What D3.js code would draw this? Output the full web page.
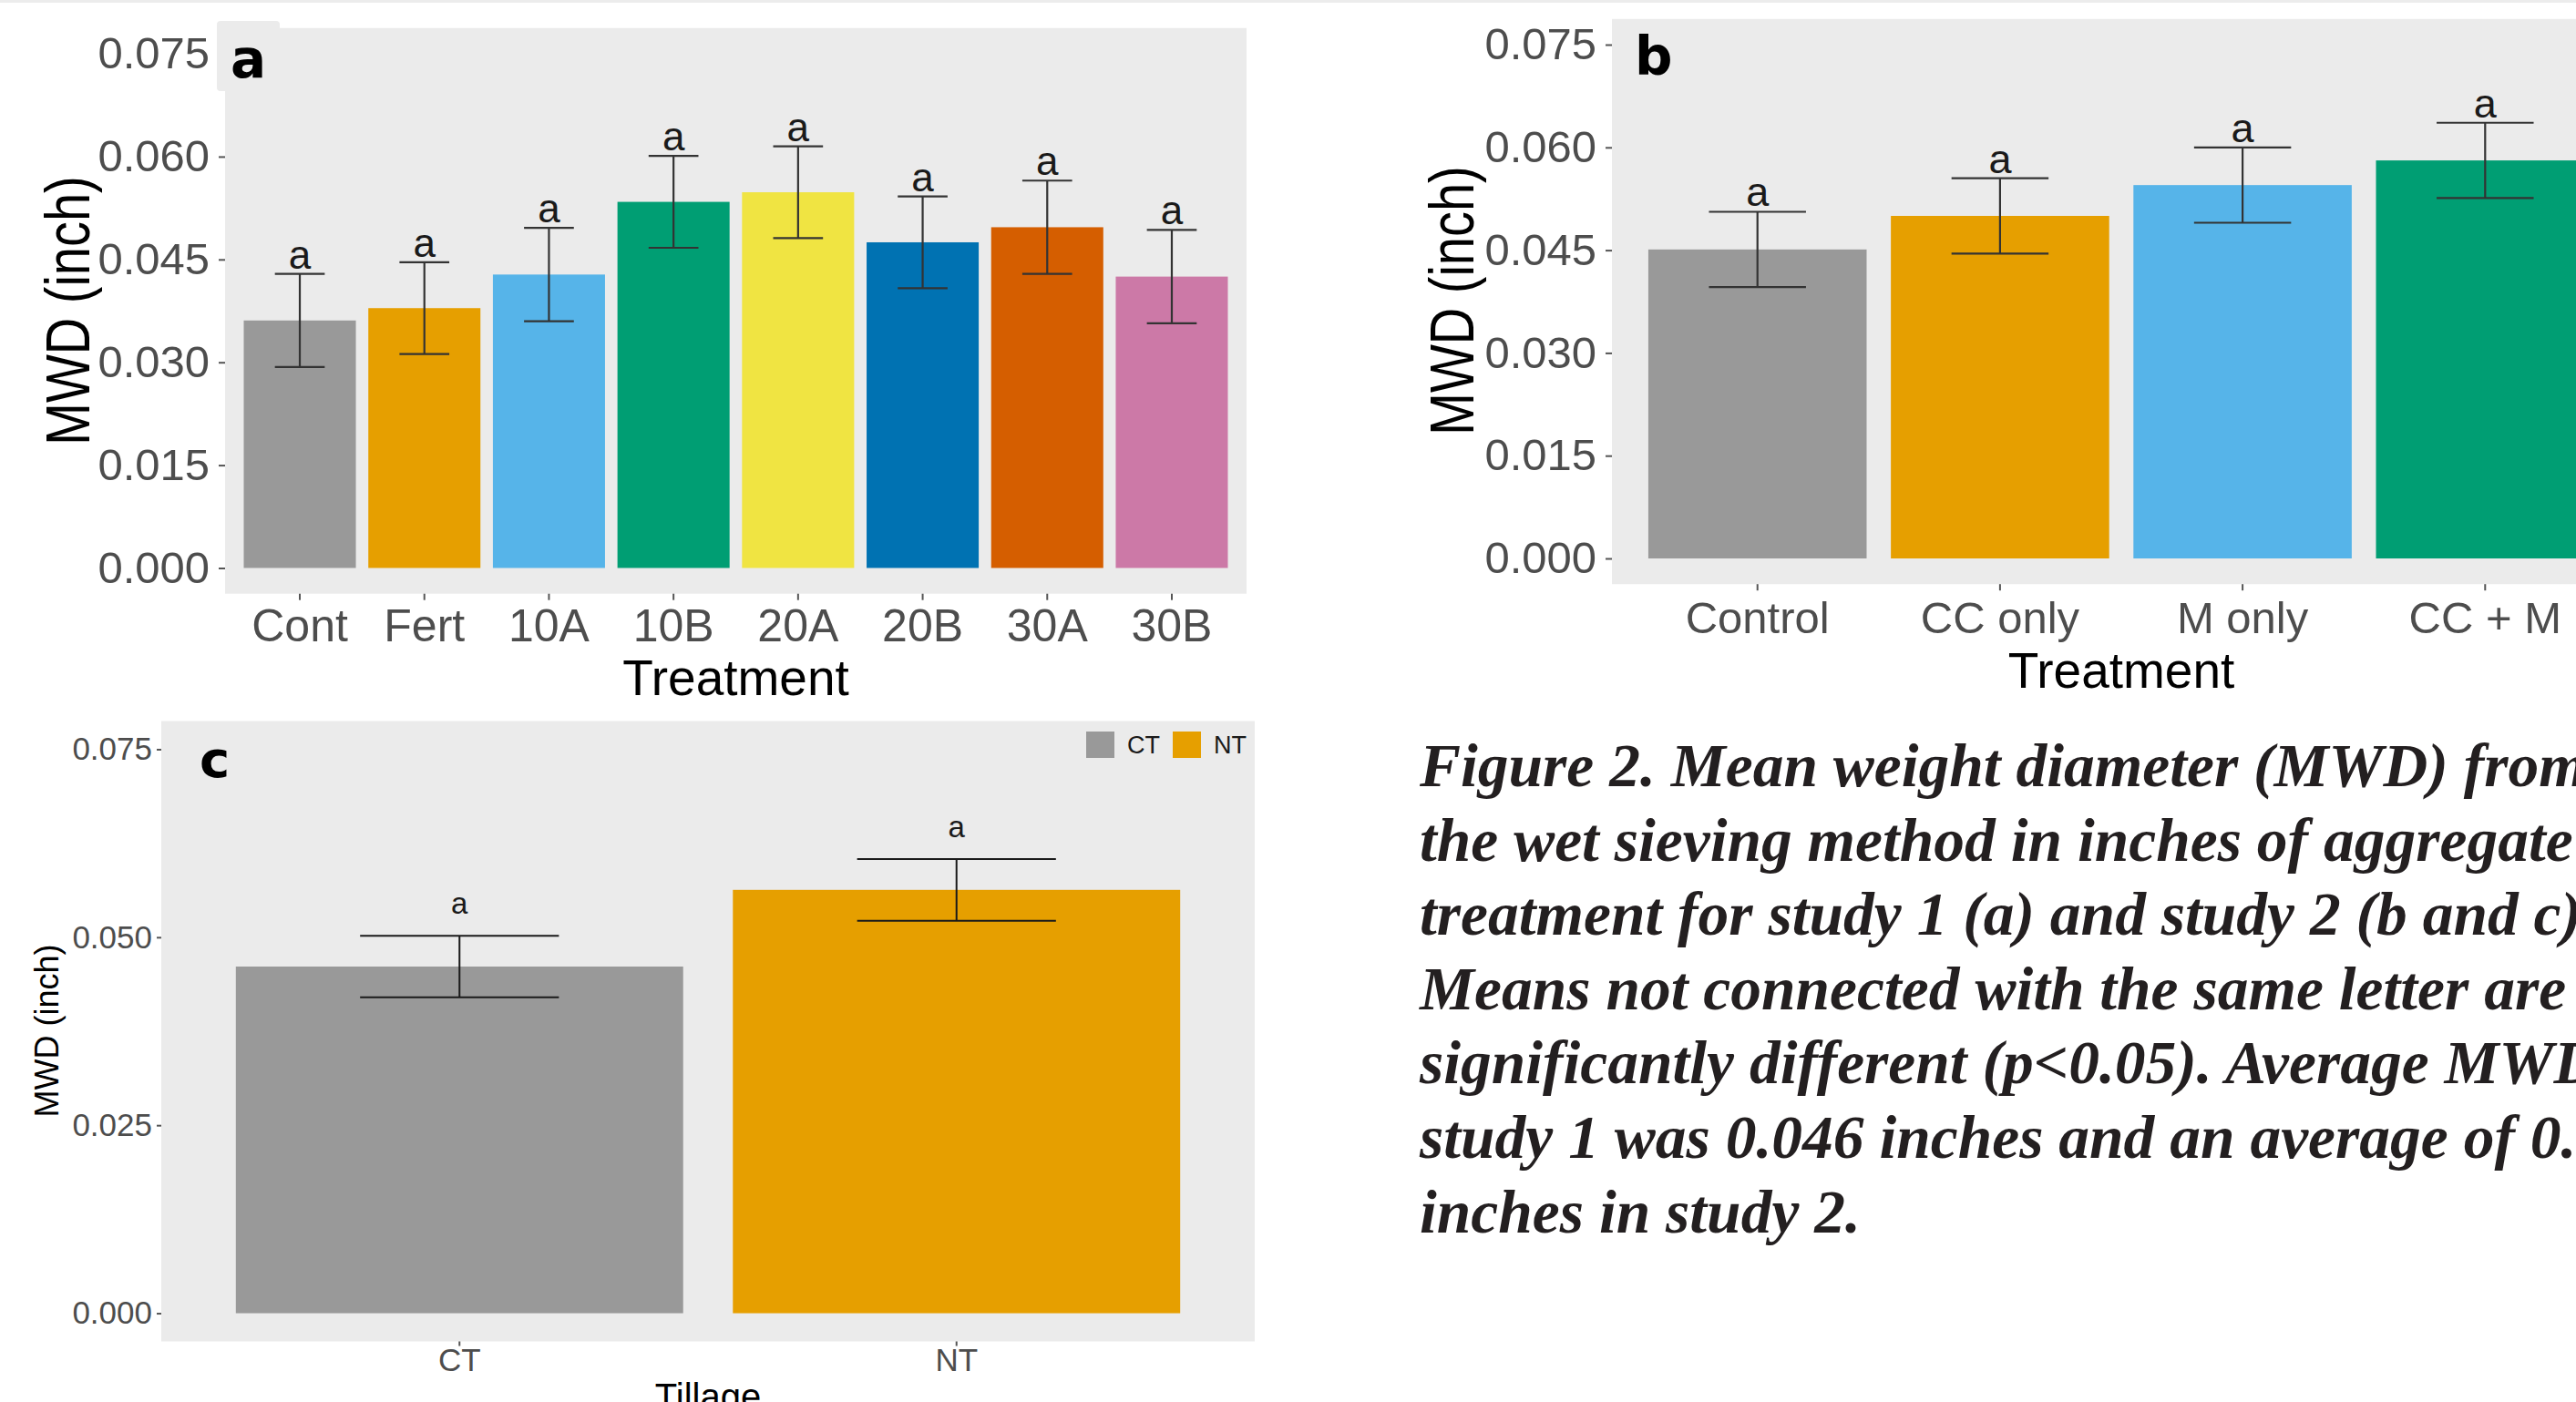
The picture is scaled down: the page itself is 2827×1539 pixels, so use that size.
<!DOCTYPE html>
<html>
<head>
<meta charset="utf-8">
<title>Figure 2. Mean weight diameter (MWD)</title>
<script src="https://d3js.org/d3.v7.min.js"></script>
<style>
  body { margin: 0; background: #fff; }
  svg { display: block; font-family: "Liberation Sans", Arial, sans-serif; }
  .tick text { fill: #4d4d4d; }
  .tick line { stroke: #555; }
</style>
</head>
<body>
<svg id="fig" width="2827" height="1539"></svg>
<script>
// study 1, panel a
var treatmentsA = ["Cont", "Fert", "10A", "10B", "20A", "20B", "30A", "30B"];
var meansA = [0.0361, 0.0379, 0.0428, 0.0534, 0.0548, 0.0475, 0.0497, 0.0425];
var seA = [0.0068, 0.0067, 0.0068, 0.0067, 0.0067, 0.0067, 0.0068, 0.0068];
var lettersA = ["a", "a", "a", "a", "a", "a", "a", "a"];
var coloursA = ["#999999", "#E69F00", "#56B4E9", "#009E73", "#F0E442", "#0072B2", "#D55E00", "#CC79A7"];

// study 2, panel b
var treatmentsB = ["Control", "CC only", "M only", "CC + M"];
var meansB = [0.0451, 0.0500, 0.0545, 0.0581];
var seB = [0.0055, 0.0055, 0.0055, 0.0055];
var lettersB = ["a", "a", "a", "a"];
var coloursB = ["#999999", "#E69F00", "#56B4E9", "#009E73"];

// study 2, panel c
var tillage = ["CT", "NT"];
var meansC = [0.0461, 0.0563];
var seC = [0.0041, 0.0041];
var lettersC = ["a", "a"];
var coloursC = ["#999999", "#E69F00"];

var ticksAB = [0, 0.015, 0.030, 0.045, 0.060, 0.075];
var ticksC = [0, 0.025, 0.050, 0.075];

var caption = [
    "Figure 2. Mean weight diameter (MWD) from",
    "the wet sieving method in inches of aggregate",
    "treatment for study 1 (a) and study 2 (b and c).",
    "Means not connected with the same letter are",
    "significantly different (p<0.05). Average MWD in",
    "study 1 was 0.046 inches and an average of 0.051",
    "inches in study 2."
];

var svg = d3.select("#fig");
svg.append("rect").attr("width", 2827).attr("height", 1539).attr("fill", "#fff");
svg.append("rect").attr("width", 2827).attr("height", 3).attr("fill", "#ececec");

function drawPanel(p) {
    var g = svg.append("g");
    var x = d3.scaleBand().domain(p.cats).range([p.left, p.right])
        .paddingInner(0.1).paddingOuter(0.15);
    var y = d3.scaleLinear().domain([-0.00375, 0.07875]).range([p.bottom, p.top]);
    var capW = x.step() * 0.4;

    g.append("rect")
        .attr("x", p.left).attr("y", p.top)
        .attr("width", p.right - p.left).attr("height", p.bottom - p.top)
        .attr("fill", "#ebebeb");

    var rows = p.cats.map(function(c, i) {
        return { cat: c, mean: p.means[i], se: p.se[i], letter: p.letters[i], colour: p.colours[i] };
    });

    g.selectAll(".bar").data(rows).enter().append("rect")
        .attr("class", "bar")
        .attr("x", function(d) { return x(d.cat); })
        .attr("y", function(d) { return y(d.mean); })
        .attr("width", x.bandwidth())
        .attr("height", function(d) { return y(0) - y(d.mean); })
        .attr("fill", function(d) { return d.colour; });

    var eb = g.selectAll(".err").data(rows).enter().append("g")
        .attr("class", "err")
        .attr("stroke", p.errColour).attr("stroke-width", p.errWidth);
    eb.append("line")
        .attr("x1", function(d) { return x(d.cat) + x.bandwidth() / 2; })
        .attr("x2", function(d) { return x(d.cat) + x.bandwidth() / 2; })
        .attr("y1", function(d) { return y(d.mean - d.se); })
        .attr("y2", function(d) { return y(d.mean + d.se); });
    [1, -1].forEach(function(s) {
        eb.append("line")
            .attr("x1", function(d) { return x(d.cat) + x.bandwidth() / 2 - capW / 2; })
            .attr("x2", function(d) { return x(d.cat) + x.bandwidth() / 2 + capW / 2; })
            .attr("y1", function(d) { return y(d.mean + s * d.se); })
            .attr("y2", function(d) { return y(d.mean + s * d.se); });
    });

    g.selectAll(".letter").data(rows).enter().append("text")
        .attr("class", "letter")
        .attr("x", function(d) { return x(d.cat) + x.bandwidth() / 2; })
        .attr("y", function(d) { return y(d.mean + d.se) - p.letterGap; })
        .attr("text-anchor", "middle")
        .attr("font-size", p.letterSize)
        .attr("fill", "#1a1a1a")
        .text(function(d) { return d.letter; });

    var ya = g.append("g")
        .attr("transform", "translate(" + p.left + ",0)")
        .call(d3.axisLeft(y).tickValues(p.yticks).tickSize(p.tickLen)
            .tickPadding(p.tickPad).tickFormat(d3.format(".3f")));
    ya.select(".domain").remove();
    ya.selectAll("text").attr("font-size", p.yFont).attr("font-family", null);
    ya.selectAll("line").attr("stroke-width", 2);

    var xa = g.append("g")
        .attr("transform", "translate(0," + p.bottom + ")")
        .call(d3.axisBottom(x).tickSize(p.tickLen));
    xa.select(".domain").remove();
    xa.selectAll("text").attr("font-size", p.xFont).attr("font-family", null)
        .attr("y", p.xLabelY).attr("dy", 0);
    xa.selectAll("line").attr("stroke-width", 2);

    g.append("text")
        .attr("x", (p.left + p.right) / 2).attr("y", p.xTitleY)
        .attr("text-anchor", "middle").attr("font-size", p.xTitleSize)
        .attr("fill", "#000").text(p.xTitle);

    g.append("text")
        .attr("transform", "translate(" + p.yTitleX + "," + p.yTitleMid + ") rotate(-90) scale(1," + p.yTitleStretch + ")")
        .attr("text-anchor", "middle").attr("font-size", p.yTitleSize)
        .attr("fill", "#000").text("MWD (inch)");

    if (p.tagBox) {
        g.append("rect").attr("x", p.tagBox[0]).attr("y", p.tagBox[1])
            .attr("width", p.tagBox[2]).attr("height", p.tagBox[3])
            .attr("rx", 4).attr("fill", "#ebebeb");
    }
    g.append("text")
        .attr("x", p.tagX).attr("y", p.tagY)
        .attr("font-family", "DejaVu Sans, sans-serif").attr("font-weight", "bold")
        .attr("font-size", p.tagSize).attr("fill", "#000").text(p.tag);

    return { x: x, y: y, g: g };
}

drawPanel({
    cats: treatmentsA, means: meansA, se: seA, letters: lettersA, colours: coloursA,
    left: 247, right: 1368, top: 30.8, bottom: 651.7,
    yticks: ticksAB, tickLen: 7, tickPad: 10, yFont: 49, xFont: 50, xLabelY: 52,
    letterSize: 44, letterGap: 6, errColour: "#333", errWidth: 2.2,
    xTitle: "Treatment", xTitleSize: 55, xTitleY: 763,
    yTitleX: 98, yTitleMid: 341, yTitleSize: 56, yTitleStretch: 1.22,
    tag: "a", tagX: 253, tagY: 85, tagSize: 58, tagBox: [238, 23, 69, 77]
});

drawPanel({
    cats: treatmentsB, means: meansB, se: seB, letters: lettersB, colours: coloursB,
    left: 1769, right: 2887, top: 20.8, bottom: 641.2,
    yticks: ticksAB, tickLen: 7, tickPad: 10, yFont: 49, xFont: 49, xLabelY: 54,
    letterSize: 45, letterGap: 6, errColour: "#333", errWidth: 2.2,
    xTitle: "Treatment", xTitleSize: 55, xTitleY: 755,
    yTitleX: 1617, yTitleMid: 330, yTitleSize: 56, yTitleStretch: 1.22,
    tag: "b", tagX: 1794, tagY: 82, tagSize: 58
});

var pc = drawPanel({
    cats: tillage, means: meansC, se: seC, letters: lettersC, colours: coloursC,
    left: 177, right: 1377, top: 791.5, bottom: 1472.5,
    yticks: ticksC, tickLen: 5, tickPad: 5, yFont: 35, xFont: 35, xLabelY: 32.5,
    letterSize: 33, letterGap: 24, errColour: "#1a1a1a", errWidth: 2,
    xTitle: "Tillage", xTitleSize: 40, xTitleY: 1547,
    yTitleX: 63.5, yTitleMid: 1131.5, yTitleSize: 36, yTitleStretch: 1,
    tag: "c", tagX: 219, tagY: 853, tagSize: 56
});

// legend of panel c
var legend = pc.g.append("g");
var legX = [1192, 1287];
tillage.forEach(function(t, i) {
    legend.append("rect").attr("x", legX[i]).attr("y", 803)
        .attr("width", 31).attr("height", 29).attr("fill", coloursC[i]);
    legend.append("text").attr("x", legX[i] + 45).attr("y", 827)
        .attr("font-size", 27).attr("fill", "#1a1a1a").text(t);
});

// caption
svg.append("g").selectAll("text").data(caption).enter().append("text")
    .attr("x", 1558)
    .attr("y", function(d, i) { return 863 + i * 81.6; })
    .attr("font-family", "Liberation Serif, 'Times New Roman', serif")
    .attr("font-weight", "bold").attr("font-style", "italic")
    .attr("font-size", 67.5).attr("fill", "#231f20")
    .text(function(d) { return d; });
</script>
</body>
</html>
